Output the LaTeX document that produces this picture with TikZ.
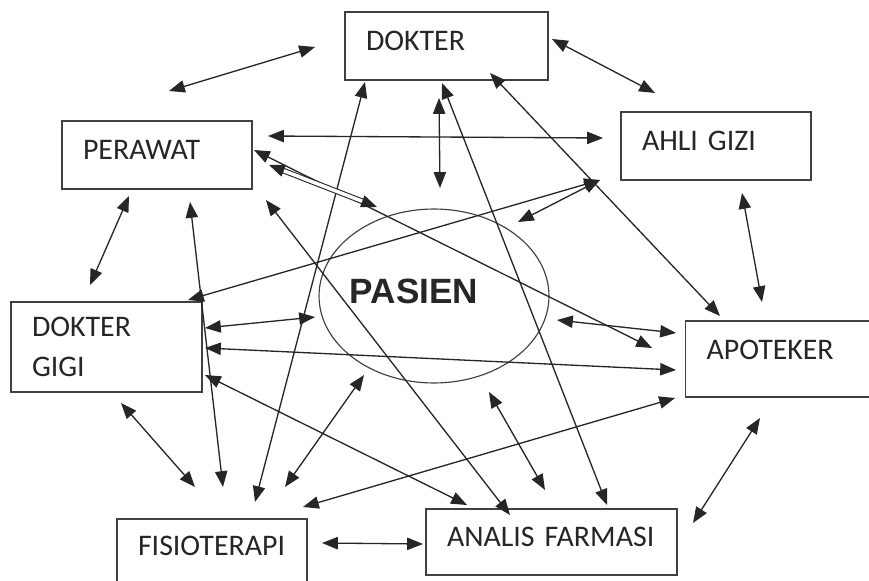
\documentclass[tikz,border=0pt]{standalone}
\usepackage{fontspec}
\usepackage{tikz}
\usetikzlibrary{arrows.meta,shapes.geometric}
\newfontfamily\boxfont{Carlito}
\newfontfamily\pasienfont{Liberation Sans}

\begin{document}
\begin{tikzpicture}[x=0.02cm, y=-0.02cm]
        \tikzset{box/.style={draw=black!75, line width=0.65pt, inner xsep=0.42cm, inner ysep=0pt, align=left, text=black!85, font=\boxfont\fontsize{17}{22.8}\selectfont}}
        \tikzset{arr/.style={<->, >={Triangle[length=9pt,width=7pt]}, draw=black!85, line width=0.75pt}}
        \clip (0,0) rectangle (869,581);
        \fill[white] (0,0) rectangle (869,581);

        \node [box, text width=3.22cm, minimum height=1.36cm, text depth=5.7pt]  (dokter)      at (446.5,46) {DOKTER};
        \node [box, text width=2.96cm, minimum height=1.36cm, text depth=6.3pt]  (perawat)     at (157,155)  {PERAWAT};
        \node [box, text width=2.96cm, minimum height=1.36cm, text depth=6.3pt]  (ahligizi)    at (716,146)  {AHLI GIZI};
        \node [box, text width=2.98cm, minimum height=1.8cm]                     (doktergigi)  at (106.5,347) {DOKTER\\GIGI};
        \node [box, text width=3.06cm, minimum height=1.52cm, text depth=10.8pt] (apoteker)    at (783,359)  {APOTEKER};
        \node [box, text width=2.96cm, minimum height=1.44cm, text depth=10.2pt] (fisioterapi) at (212,555)  {FISIOTERAPI};
        \node [box, text width=4.18cm, minimum height=1.32cm, text depth=5.7pt]  (analis)      at (551.5,542) {ANALIS FARMASI};
        \node [ellipse, draw=black!75, line width=0.65pt, minimum width=4.6cm, minimum height=3.48cm, inner sep=0pt,
               text=black!85, text depth=5.7pt, font=\pasienfont\bfseries\fontsize{20}{20}\selectfont] (pasien) at (434,296) {\makebox[0pt]{\hspace*{-0.8cm}PASIEN}};

        % ends of the arrows
        \foreach \name/\pos in {pr1/{169,91}, pr2/{268,136}, pr3/{254,150}, pr4/{269,165}, pr5/{266,200}, pr6/{190,202}, pr7/{129,196},
                                dk1/{315,47}, dk2/{552,39}, dk3/{439,98}, dk4/{442,83}, dk5/{490,73}, dk6/{365,82},
                                ag1/{655,93}, ag2/{603,138}, ag3/{600,180}, ag4/{742,193},
                                ps1/{440,188}, ps2/{377,207}, ps3/{518,222}, ps4/{315,317}, ps5/{364,375}, ps6/{557,320}, ps7/{489,392},
                                dg1/{90,285}, dg2/{188,300}, dg3/{205,328}, dg4/{205,348}, dg5/{205,375}, dg6/{121,403},
                                ap1/{720,316}, ap2/{652,348}, ap3/{762,302}, ap4/{676,370}, ap5/{675,398}, ap6/{676,333}, ap7/{760,418},
                                fs1/{255,502}, fs2/{223,487}, fs3/{195,487}, fs4/{285,487}, fs5/{303,507}, fs6/{322,543},
                                af1/{607,505}, af2/{510,515}, af3/{467,505}, af4/{545,490}, af5/{693,523}, af6/{423,544}}
            \coordinate (\name) at (\pos);

        \foreach \a/\b in {pr1/dk1, dk2/ag1, pr2/ag2, dk3/ps1, dk4/af1, dk5/ap1, dk6/fs1, pr3/ap2, pr5/af2,
                           pr6/fs2, pr7/dg1, ag3/dg2, ag3/ps3, ag4/ap3, dg3/ps4, dg4/ap4, dg5/af3, dg6/fs3,
                           ps5/fs4, ap5/fs5, ps6/ap6, ps7/af4, ap7/af5, fs6/af6}
            \draw [arr] (\a) -- (\b);
        \draw [arr, double, double distance=2pt, line width=0.6pt] (pr4) -- (ps2);
    \end{tikzpicture}
\end{document}
